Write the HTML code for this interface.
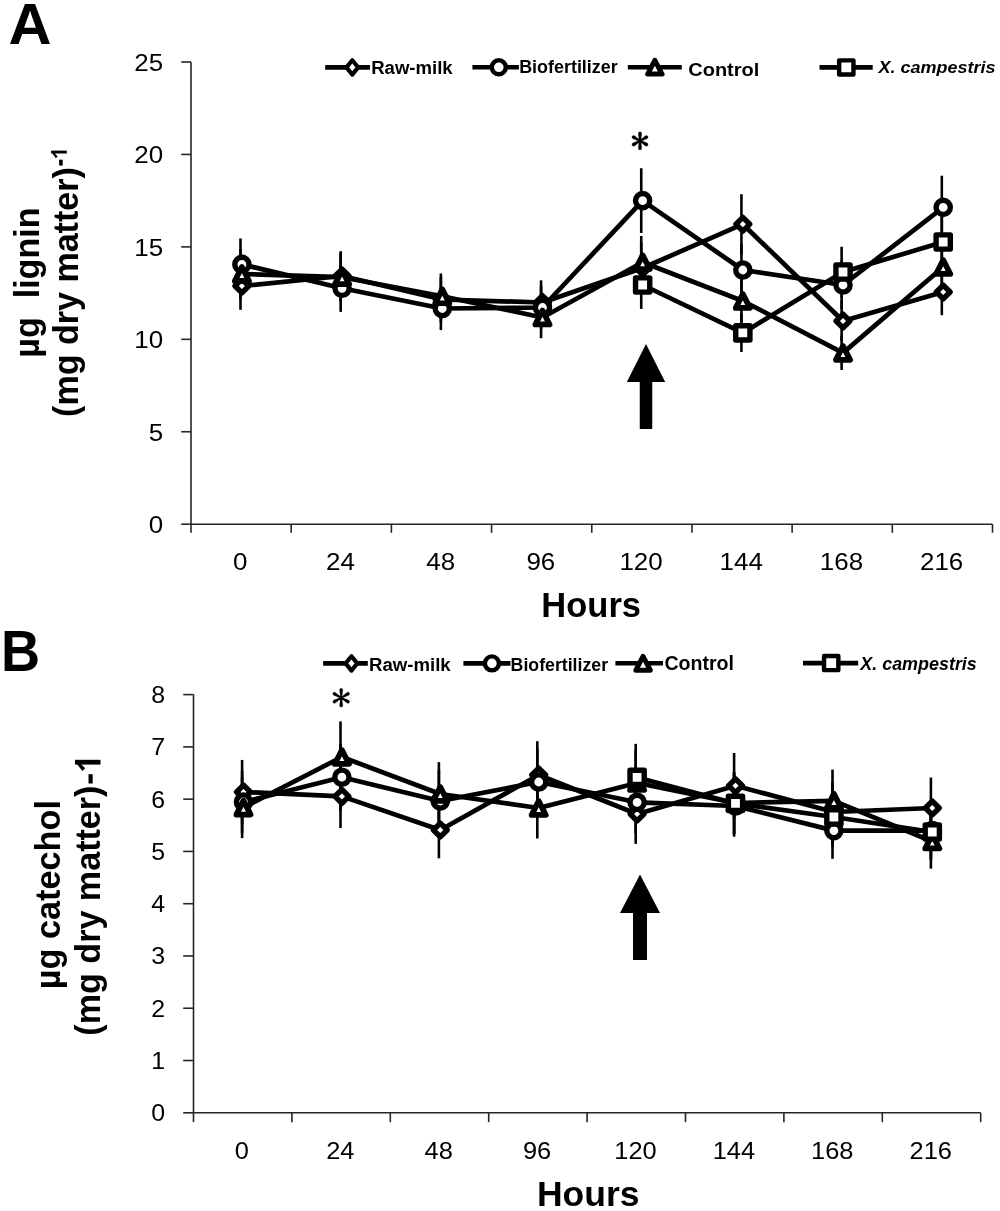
<!DOCTYPE html><html><head><meta charset="utf-8"><title>Lignin and catechol</title>
<style>html,body{margin:0;padding:0;background:#fff;}svg{display:block;will-change:transform;}</style></head><body>
<svg width="1000" height="1211" viewBox="0 0 1000 1211">
<rect width="1000" height="1211" fill="#fff"/>
<text transform="translate(8.4 44) scale(1.04 1)" font-family='"Liberation Sans", sans-serif' font-weight="bold" font-size="57.3">A</text>
<text transform="translate(1 671) scale(0.95 1)" font-family='"Liberation Sans", sans-serif' font-weight="bold" font-size="57">B</text>
<g stroke="#262626" stroke-width="1.6" fill="none">
<path d="M191.0 62.0V524.2H992.5"/>
<path d="M181.20 524.20H191.0"/>
<path d="M181.20 431.76H191.0"/>
<path d="M181.20 339.32H191.0"/>
<path d="M181.20 246.88H191.0"/>
<path d="M181.20 154.44H191.0"/>
<path d="M181.20 62.00H191.0"/>
<path d="M191.00 524.2V532.80"/>
<path d="M291.19 524.2V532.80"/>
<path d="M391.38 524.2V532.80"/>
<path d="M491.56 524.2V532.80"/>
<path d="M591.75 524.2V532.80"/>
<path d="M691.94 524.2V532.80"/>
<path d="M792.12 524.2V532.80"/>
<path d="M892.31 524.2V532.80"/>
<path d="M992.50 524.2V532.80"/>
</g>
<g font-family='"Liberation Sans", sans-serif' font-size="24.5" fill="#000" text-anchor="end">
<text transform="translate(163.20 533.02) scale(1.06 1)">0</text>
<text transform="translate(163.20 440.58) scale(1.06 1)">5</text>
<text transform="translate(163.20 348.14) scale(1.06 1)">10</text>
<text transform="translate(163.20 255.70) scale(1.06 1)">15</text>
<text transform="translate(163.20 163.26) scale(1.06 1)">20</text>
<text transform="translate(163.20 70.82) scale(1.06 1)">25</text>
</g>
<g font-family='"Liberation Sans", sans-serif' font-size="24.5" fill="#000" text-anchor="middle">
<text transform="translate(240.29 570.00) scale(1.06 1)">0</text>
<text transform="translate(340.48 570.00) scale(1.06 1)">24</text>
<text transform="translate(440.67 570.00) scale(1.06 1)">48</text>
<text transform="translate(540.86 570.00) scale(1.06 1)">96</text>
<text transform="translate(641.04 570.00) scale(1.06 1)">120</text>
<text transform="translate(741.23 570.00) scale(1.06 1)">144</text>
<text transform="translate(841.42 570.00) scale(1.06 1)">168</text>
<text transform="translate(941.61 570.00) scale(1.06 1)">216</text>
</g>
<text x="591.20" y="617.20" font-family='"Liberation Sans", sans-serif' font-weight="bold" font-size="34.5" text-anchor="middle">Hours</text>
<g stroke="#000" stroke-width="2.6">
<path d="M240.49 262.18V309.82"/>
<path d="M340.68 251.18V300.82"/>
<path d="M440.87 277.03V321.97"/>
<path d="M541.06 280.33V324.67"/>
<path d="M641.24 242.38V293.62"/>
<path d="M741.43 194.20V254.20"/>
<path d="M841.62 300.68V341.32"/>
<path d="M941.81 268.78V315.22"/>
<path d="M240.49 238.42V290.38"/>
<path d="M340.68 264.71V311.89"/>
<path d="M440.87 286.93V330.07"/>
<path d="M541.06 285.83V329.17"/>
<path d="M641.24 168.24V232.96"/>
<path d="M741.43 244.58V295.42"/>
<path d="M841.62 261.08V308.92"/>
<path d="M941.81 175.72V239.08"/>
<path d="M240.49 248.98V299.02"/>
<path d="M340.68 252.50V301.90"/>
<path d="M440.87 273.51V319.09"/>
<path d="M541.06 296.83V338.17"/>
<path d="M641.24 236.00V288.40"/>
<path d="M741.43 278.68V323.32"/>
<path d="M841.62 335.77V370.03"/>
<path d="M941.81 241.28V292.72"/>
<path d="M641.24 261.08V308.92"/>
<path d="M741.43 313.77V352.03"/>
<path d="M841.62 246.78V297.22"/>
<path d="M941.81 213.78V270.22"/>
</g>
<path d="M241.89 286.00L342.08 276.00L442.27 299.50L542.46 302.50L642.64 268.00L742.83 224.20L843.02 321.00L943.21 292.00" fill="none" stroke="#000" stroke-width="4.7" stroke-linejoin="round"/>
<path d="M241.89 264.40L342.08 288.30L442.27 308.50L542.46 307.50L642.64 200.60L742.83 270.00L843.02 285.00L943.21 207.40" fill="none" stroke="#000" stroke-width="4.7" stroke-linejoin="round"/>
<path d="M241.89 274.00L342.08 277.20L442.27 296.30L542.46 317.50L642.64 262.20L742.83 301.00L843.02 352.90L943.21 267.00" fill="none" stroke="#000" stroke-width="4.7" stroke-linejoin="round"/>
<path d="M642.64 285.00L742.83 332.90L843.02 272.00L943.21 242.00" fill="none" stroke="#000" stroke-width="4.7" stroke-linejoin="round"/>
<path d="M241.89 279.10L248.79 286.00L241.89 292.90L234.99 286.00Z" fill="#fff" stroke="#000" stroke-width="5.4" stroke-linejoin="round"/>
<path d="M342.08 269.10L348.98 276.00L342.08 282.90L335.18 276.00Z" fill="#fff" stroke="#000" stroke-width="5.4" stroke-linejoin="round"/>
<path d="M442.27 292.60L449.17 299.50L442.27 306.40L435.37 299.50Z" fill="#fff" stroke="#000" stroke-width="5.4" stroke-linejoin="round"/>
<path d="M542.46 295.60L549.36 302.50L542.46 309.40L535.56 302.50Z" fill="#fff" stroke="#000" stroke-width="5.4" stroke-linejoin="round"/>
<path d="M642.64 261.10L649.54 268.00L642.64 274.90L635.74 268.00Z" fill="#fff" stroke="#000" stroke-width="5.4" stroke-linejoin="round"/>
<path d="M742.83 217.30L749.73 224.20L742.83 231.10L735.93 224.20Z" fill="#fff" stroke="#000" stroke-width="5.4" stroke-linejoin="round"/>
<path d="M843.02 314.10L849.92 321.00L843.02 327.90L836.12 321.00Z" fill="#fff" stroke="#000" stroke-width="5.4" stroke-linejoin="round"/>
<path d="M943.21 285.10L950.11 292.00L943.21 298.90L936.31 292.00Z" fill="#fff" stroke="#000" stroke-width="5.4" stroke-linejoin="round"/>
<circle cx="241.89" cy="264.40" r="7.1" fill="#fff" stroke="#000" stroke-width="5.4"/>
<circle cx="342.08" cy="288.30" r="7.1" fill="#fff" stroke="#000" stroke-width="5.4"/>
<circle cx="442.27" cy="308.50" r="7.1" fill="#fff" stroke="#000" stroke-width="5.4"/>
<circle cx="542.46" cy="307.50" r="7.1" fill="#fff" stroke="#000" stroke-width="5.4"/>
<circle cx="642.64" cy="200.60" r="7.1" fill="#fff" stroke="#000" stroke-width="5.4"/>
<circle cx="742.83" cy="270.00" r="7.1" fill="#fff" stroke="#000" stroke-width="5.4"/>
<circle cx="843.02" cy="285.00" r="7.1" fill="#fff" stroke="#000" stroke-width="5.4"/>
<circle cx="943.21" cy="207.40" r="7.1" fill="#fff" stroke="#000" stroke-width="5.4"/>
<path d="M241.89 267.05L248.99 280.95L234.79 280.95Z" fill="#fff" stroke="#000" stroke-width="5.7" stroke-linejoin="round"/>
<path d="M342.08 270.25L349.18 284.15L334.98 284.15Z" fill="#fff" stroke="#000" stroke-width="5.7" stroke-linejoin="round"/>
<path d="M442.27 289.35L449.37 303.25L435.17 303.25Z" fill="#fff" stroke="#000" stroke-width="5.7" stroke-linejoin="round"/>
<path d="M542.46 310.55L549.56 324.45L535.36 324.45Z" fill="#fff" stroke="#000" stroke-width="5.7" stroke-linejoin="round"/>
<path d="M642.64 255.25L649.74 269.15L635.54 269.15Z" fill="#fff" stroke="#000" stroke-width="5.7" stroke-linejoin="round"/>
<path d="M742.83 294.05L749.93 307.95L735.73 307.95Z" fill="#fff" stroke="#000" stroke-width="5.7" stroke-linejoin="round"/>
<path d="M843.02 345.95L850.12 359.85L835.92 359.85Z" fill="#fff" stroke="#000" stroke-width="5.7" stroke-linejoin="round"/>
<path d="M943.21 260.05L950.31 273.95L936.11 273.95Z" fill="#fff" stroke="#000" stroke-width="5.7" stroke-linejoin="round"/>
<rect x="635.54" y="277.90" width="14.20" height="14.20" fill="#fff" stroke="#000" stroke-width="5.4" stroke-linejoin="round"/>
<rect x="735.73" y="325.80" width="14.20" height="14.20" fill="#fff" stroke="#000" stroke-width="5.4" stroke-linejoin="round"/>
<rect x="835.92" y="264.90" width="14.20" height="14.20" fill="#fff" stroke="#000" stroke-width="5.4" stroke-linejoin="round"/>
<rect x="936.11" y="234.90" width="14.20" height="14.20" fill="#fff" stroke="#000" stroke-width="5.4" stroke-linejoin="round"/>
<g stroke="#262626" stroke-width="1.6" fill="none">
<path d="M193.5 694.6V1112.8H980.7"/>
<path d="M183.20 1112.80H193.5"/>
<path d="M183.20 1060.52H193.5"/>
<path d="M183.20 1008.25H193.5"/>
<path d="M183.20 955.97H193.5"/>
<path d="M183.20 903.70H193.5"/>
<path d="M183.20 851.42H193.5"/>
<path d="M183.20 799.15H193.5"/>
<path d="M183.20 746.88H193.5"/>
<path d="M183.20 694.60H193.5"/>
<path d="M193.50 1112.8V1122.20"/>
<path d="M291.90 1112.8V1122.20"/>
<path d="M390.30 1112.8V1122.20"/>
<path d="M488.70 1112.8V1122.20"/>
<path d="M587.10 1112.8V1122.20"/>
<path d="M685.50 1112.8V1122.20"/>
<path d="M783.90 1112.8V1122.20"/>
<path d="M882.30 1112.8V1122.20"/>
<path d="M980.70 1112.8V1122.20"/>
</g>
<g font-family='"Liberation Sans", sans-serif' font-size="23.5" fill="#000" text-anchor="end">
<text transform="translate(165.20 1121.26) scale(1.06 1)">0</text>
<text transform="translate(165.20 1068.98) scale(1.06 1)">1</text>
<text transform="translate(165.20 1016.71) scale(1.06 1)">2</text>
<text transform="translate(165.20 964.43) scale(1.06 1)">3</text>
<text transform="translate(165.20 912.16) scale(1.06 1)">4</text>
<text transform="translate(165.20 859.88) scale(1.06 1)">5</text>
<text transform="translate(165.20 807.61) scale(1.06 1)">6</text>
<text transform="translate(165.20 755.34) scale(1.06 1)">7</text>
<text transform="translate(165.20 703.06) scale(1.06 1)">8</text>
</g>
<g font-family='"Liberation Sans", sans-serif' font-size="24.0" fill="#000" text-anchor="middle">
<text transform="translate(241.90 1158.60) scale(1.06 1)">0</text>
<text transform="translate(340.30 1158.60) scale(1.06 1)">24</text>
<text transform="translate(438.70 1158.60) scale(1.06 1)">48</text>
<text transform="translate(537.10 1158.60) scale(1.06 1)">96</text>
<text transform="translate(635.50 1158.60) scale(1.06 1)">120</text>
<text transform="translate(733.90 1158.60) scale(1.06 1)">144</text>
<text transform="translate(832.30 1158.60) scale(1.06 1)">168</text>
<text transform="translate(930.70 1158.60) scale(1.06 1)">216</text>
</g>
<text x="588.20" y="1206.00" font-family='"Liberation Sans", sans-serif' font-weight="bold" font-size="35.5" text-anchor="middle">Hours</text>
<g stroke="#000" stroke-width="2.6">
<path d="M242.10 759.92V824.08"/>
<path d="M340.50 764.76V828.04"/>
<path d="M438.90 801.72V858.28"/>
<path d="M537.30 741.22V808.78"/>
<path d="M635.70 784.12V843.88"/>
<path d="M734.10 752.99V818.41"/>
<path d="M832.50 781.92V842.08"/>
<path d="M930.90 777.52V838.48"/>
<path d="M242.10 770.92V833.08"/>
<path d="M340.50 743.64V810.76"/>
<path d="M438.90 769.82V832.18"/>
<path d="M537.30 748.92V815.08"/>
<path d="M635.70 771.25V833.35"/>
<path d="M734.10 775.32V836.68"/>
<path d="M832.50 802.38V858.82"/>
<path d="M930.90 802.38V858.82"/>
<path d="M242.10 777.08V838.12"/>
<path d="M340.50 721.42V792.58"/>
<path d="M438.90 762.12V825.88"/>
<path d="M537.30 777.52V838.48"/>
<path d="M635.70 750.02V815.98"/>
<path d="M734.10 772.02V833.98"/>
<path d="M832.50 769.60V832.00"/>
<path d="M930.90 814.37V868.63"/>
<path d="M635.70 743.86V810.94"/>
<path d="M734.10 772.46V834.34"/>
<path d="M832.50 787.42V846.58"/>
<path d="M930.90 803.92V860.08"/>
</g>
<path d="M243.50 792.00L341.90 796.40L440.30 830.00L538.70 775.00L637.10 814.00L735.50 785.70L833.90 812.00L932.30 808.00" fill="none" stroke="#000" stroke-width="4.7" stroke-linejoin="round"/>
<path d="M243.50 802.00L341.90 777.20L440.30 801.00L538.70 782.00L637.10 802.30L735.50 806.00L833.90 830.60L932.30 830.60" fill="none" stroke="#000" stroke-width="4.7" stroke-linejoin="round"/>
<path d="M243.50 807.60L341.90 757.00L440.30 794.00L538.70 808.00L637.10 783.00L735.50 803.00L833.90 800.80L932.30 841.50" fill="none" stroke="#000" stroke-width="4.7" stroke-linejoin="round"/>
<path d="M637.10 777.40L735.50 803.40L833.90 817.00L932.30 832.00" fill="none" stroke="#000" stroke-width="4.7" stroke-linejoin="round"/>
<path d="M243.50 785.10L250.40 792.00L243.50 798.90L236.60 792.00Z" fill="#fff" stroke="#000" stroke-width="5.4" stroke-linejoin="round"/>
<path d="M341.90 789.50L348.80 796.40L341.90 803.30L335.00 796.40Z" fill="#fff" stroke="#000" stroke-width="5.4" stroke-linejoin="round"/>
<path d="M440.30 823.10L447.20 830.00L440.30 836.90L433.40 830.00Z" fill="#fff" stroke="#000" stroke-width="5.4" stroke-linejoin="round"/>
<path d="M538.70 768.10L545.60 775.00L538.70 781.90L531.80 775.00Z" fill="#fff" stroke="#000" stroke-width="5.4" stroke-linejoin="round"/>
<path d="M637.10 807.10L644.00 814.00L637.10 820.90L630.20 814.00Z" fill="#fff" stroke="#000" stroke-width="5.4" stroke-linejoin="round"/>
<path d="M735.50 778.80L742.40 785.70L735.50 792.60L728.60 785.70Z" fill="#fff" stroke="#000" stroke-width="5.4" stroke-linejoin="round"/>
<path d="M833.90 805.10L840.80 812.00L833.90 818.90L827.00 812.00Z" fill="#fff" stroke="#000" stroke-width="5.4" stroke-linejoin="round"/>
<path d="M932.30 801.10L939.20 808.00L932.30 814.90L925.40 808.00Z" fill="#fff" stroke="#000" stroke-width="5.4" stroke-linejoin="round"/>
<circle cx="243.50" cy="802.00" r="7.1" fill="#fff" stroke="#000" stroke-width="5.4"/>
<circle cx="341.90" cy="777.20" r="7.1" fill="#fff" stroke="#000" stroke-width="5.4"/>
<circle cx="440.30" cy="801.00" r="7.1" fill="#fff" stroke="#000" stroke-width="5.4"/>
<circle cx="538.70" cy="782.00" r="7.1" fill="#fff" stroke="#000" stroke-width="5.4"/>
<circle cx="637.10" cy="802.30" r="7.1" fill="#fff" stroke="#000" stroke-width="5.4"/>
<circle cx="735.50" cy="806.00" r="7.1" fill="#fff" stroke="#000" stroke-width="5.4"/>
<circle cx="833.90" cy="830.60" r="7.1" fill="#fff" stroke="#000" stroke-width="5.4"/>
<circle cx="932.30" cy="830.60" r="7.1" fill="#fff" stroke="#000" stroke-width="5.4"/>
<path d="M243.50 800.65L250.60 814.55L236.40 814.55Z" fill="#fff" stroke="#000" stroke-width="5.7" stroke-linejoin="round"/>
<path d="M341.90 750.05L349.00 763.95L334.80 763.95Z" fill="#fff" stroke="#000" stroke-width="5.7" stroke-linejoin="round"/>
<path d="M440.30 787.05L447.40 800.95L433.20 800.95Z" fill="#fff" stroke="#000" stroke-width="5.7" stroke-linejoin="round"/>
<path d="M538.70 801.05L545.80 814.95L531.60 814.95Z" fill="#fff" stroke="#000" stroke-width="5.7" stroke-linejoin="round"/>
<path d="M637.10 776.05L644.20 789.95L630.00 789.95Z" fill="#fff" stroke="#000" stroke-width="5.7" stroke-linejoin="round"/>
<path d="M735.50 796.05L742.60 809.95L728.40 809.95Z" fill="#fff" stroke="#000" stroke-width="5.7" stroke-linejoin="round"/>
<path d="M833.90 793.85L841.00 807.75L826.80 807.75Z" fill="#fff" stroke="#000" stroke-width="5.7" stroke-linejoin="round"/>
<path d="M932.30 834.55L939.40 848.45L925.20 848.45Z" fill="#fff" stroke="#000" stroke-width="5.7" stroke-linejoin="round"/>
<rect x="630.00" y="770.30" width="14.20" height="14.20" fill="#fff" stroke="#000" stroke-width="5.4" stroke-linejoin="round"/>
<rect x="728.40" y="796.30" width="14.20" height="14.20" fill="#fff" stroke="#000" stroke-width="5.4" stroke-linejoin="round"/>
<rect x="826.80" y="809.90" width="14.20" height="14.20" fill="#fff" stroke="#000" stroke-width="5.4" stroke-linejoin="round"/>
<rect x="925.20" y="824.90" width="14.20" height="14.20" fill="#fff" stroke="#000" stroke-width="5.4" stroke-linejoin="round"/>
<g font-family='"Liberation Sans", sans-serif' font-weight="bold" font-size="34.5" fill="#000">
<text transform="translate(38.8 282.6) rotate(-90) scale(0.987 1)" text-anchor="middle" xml:space="preserve">µg  lignin</text>
<text transform="translate(77.8 292.05) rotate(-90) scale(0.987 1)" text-anchor="middle">(mg dry matter)</text>
</g>
<g font-family='"Liberation Sans", sans-serif' font-weight="bold" font-size="35.5" fill="#000">
<text transform="translate(60 894.6) rotate(-90) scale(0.965 1)" text-anchor="middle">µg catechol</text>
<text transform="translate(100.3 910.6) rotate(-90) scale(0.961 1)" text-anchor="middle">(mg dry matter)</text>
</g>
<g fill="#000">
<path d="M51.1 150.6H66.8V153.5H51.1Z"/>
<path d="M51.1 151.6L53.3 151.6L57.6 156.6L55.8 158.2Z"/>
<path d="M59.1 159.7H62.7V165.6H59.1Z"/>
<path d="M75 759.8H100.5V764.6H75Z"/>
<path d="M75 761.5L78.4 761.5L85.2 768.3L82.4 771Z"/>
<path d="M88.5 774.2H92.7V783.5H88.5Z"/>
</g>
<path d="M325.20 67.40H370.00" stroke="#000" stroke-width="4.6"/>
<path d="M352.30 60.20L358.15 67.40L352.30 74.60L346.45 67.40Z" fill="#fff" stroke="#000" stroke-width="4.1" stroke-linejoin="round"/>
<text x="371.20" y="73.75" font-family='"Liberation Sans", sans-serif' font-weight="bold" font-size="18.8" textLength="81.5" lengthAdjust="spacingAndGlyphs">Raw-milk</text>
<path d="M472.40 67.30H518.90" stroke="#000" stroke-width="4.6"/>
<circle cx="498.80" cy="67.30" r="7.0" fill="#fff" stroke="#000" stroke-width="4.4"/>
<text x="519.20" y="73.10" font-family='"Liberation Sans", sans-serif' font-weight="bold" font-size="18.7" textLength="98.5" lengthAdjust="spacingAndGlyphs">Biofertilizer</text>
<path d="M627.80 67.20H681.80" stroke="#000" stroke-width="4.6"/>
<path d="M654.85 60.30L662.05 74.10L647.65 74.10Z" fill="#fff" stroke="#000" stroke-width="5" stroke-linejoin="round"/>
<text x="688.30" y="76.00" font-family='"Liberation Sans", sans-serif' font-weight="bold" font-size="18.9" textLength="71.0" lengthAdjust="spacingAndGlyphs">Control</text>
<path d="M819.50 67.40H872.70" stroke="#000" stroke-width="4.6"/>
<rect x="839.15" y="60.35" width="14.3" height="14.1" fill="#fff" stroke="#000" stroke-width="4.4" stroke-linejoin="round"/>
<text x="878.60" y="72.50" font-family='"Liberation Sans", sans-serif' font-weight="bold" font-size="16.9" font-style="italic" textLength="117.0" lengthAdjust="spacingAndGlyphs">X. campestris</text>
<path d="M323.10 663.40H367.80" stroke="#000" stroke-width="4.6"/>
<path d="M351.45 656.20L357.30 663.40L351.45 670.60L345.60 663.40Z" fill="#fff" stroke="#000" stroke-width="4.1" stroke-linejoin="round"/>
<text x="369.00" y="670.75" font-family='"Liberation Sans", sans-serif' font-weight="bold" font-size="17.5" textLength="81.7" lengthAdjust="spacingAndGlyphs">Raw-milk</text>
<path d="M463.40 663.40H510.40" stroke="#000" stroke-width="4.6"/>
<circle cx="491.90" cy="663.40" r="7.0" fill="#fff" stroke="#000" stroke-width="4.4"/>
<text x="510.60" y="670.70" font-family='"Liberation Sans", sans-serif' font-weight="bold" font-size="17.5" textLength="97.5" lengthAdjust="spacingAndGlyphs">Biofertilizer</text>
<path d="M615.40 663.30H663.00" stroke="#000" stroke-width="4.6"/>
<path d="M643.05 656.40L650.25 670.20L635.85 670.20Z" fill="#fff" stroke="#000" stroke-width="5" stroke-linejoin="round"/>
<text x="664.40" y="670.00" font-family='"Liberation Sans", sans-serif' font-weight="bold" font-size="19.3" textLength="69.6" lengthAdjust="spacingAndGlyphs">Control</text>
<path d="M803.00 663.10H858.20" stroke="#000" stroke-width="4.6"/>
<rect x="824.05" y="656.05" width="14.3" height="14.1" fill="#fff" stroke="#000" stroke-width="4.4" stroke-linejoin="round"/>
<text x="860.30" y="670.00" font-family='"Liberation Sans", sans-serif' font-weight="bold" font-size="17.5" font-style="italic" textLength="116.5" lengthAdjust="spacingAndGlyphs">X. campestris</text>
<path d="M640.80 140.85L641.70 133.45A1.7 1.7 0 0 0 638.30 133.45L639.20 140.85ZM640.40 141.54L647.26 138.62A1.7 1.7 0 0 0 645.56 135.68L639.60 140.16ZM639.60 141.54L645.56 146.02A1.7 1.7 0 0 0 647.26 143.08L640.40 140.16ZM639.20 140.85L638.30 148.25A1.7 1.7 0 0 0 641.70 148.25L640.80 140.85ZM639.60 140.16L632.74 143.08A1.7 1.7 0 0 0 634.44 146.02L640.40 141.54ZM640.40 140.16L634.44 135.68A1.7 1.7 0 0 0 632.74 138.62L639.60 141.54Z" fill="#000" stroke="#000" stroke-width="0.3"/>
<path d="M341.80 697.70L342.80 689.90A1.6 1.6 0 0 0 339.60 689.90L340.60 697.70ZM341.50 698.22L348.75 695.19A1.6 1.6 0 0 0 347.15 692.41L340.90 697.18ZM340.90 698.22L347.15 702.99A1.6 1.6 0 0 0 348.75 700.21L341.50 697.18ZM340.60 697.70L339.60 705.50A1.6 1.6 0 0 0 342.80 705.50L341.80 697.70ZM340.90 697.18L333.65 700.21A1.6 1.6 0 0 0 335.25 702.99L341.50 698.22ZM341.50 697.18L335.25 692.41A1.6 1.6 0 0 0 333.65 695.19L340.90 698.22Z" fill="#000" stroke="#000" stroke-width="0.3"/>
<path d="M646.00 344.00L665.20 382.00L652.25 382.00L652.25 429.00L639.75 429.00L639.75 382.00L626.80 382.00Z" fill="#000"/>
<path d="M640.00 874.50L660.00 913.00L647.00 913.00L647.00 960.00L633.00 960.00L633.00 913.00L620.00 913.00Z" fill="#000"/>
</svg></body></html>
